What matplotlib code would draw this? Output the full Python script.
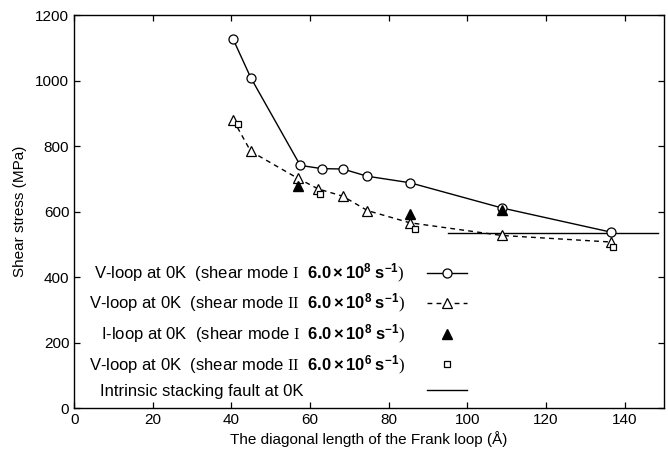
import matplotlib

matplotlib.use("Agg")
import matplotlib.pyplot as plt

plt.rcParams["font.family"] = ["Liberation Sans", "DejaVu Sans"]
plt.rcParams["mathtext.fontset"] = "custom"
plt.rcParams["mathtext.rm"] = "Liberation Serif"
plt.rcParams["mathtext.bf"] = "Liberation Sans:bold"
plt.rcParams["mathtext.it"] = "Liberation Serif:italic"

# V-loop, shear mode I, 6.0e8 s^-1
v1_len = [40.4, 44.9, 57.5, 63.0, 68.3, 74.5, 85.4, 108.8, 136.6]
v1_stress = [1127, 1009, 741, 731, 730, 708, 688, 611, 537]

# V-loop, shear mode II, 6.0e8 s^-1
v2_len = [40.4, 44.9, 56.8, 62.1, 68.3, 74.6, 85.3, 108.8, 136.6]
v2_stress = [881, 784, 702, 669, 647, 603, 566, 527, 507]

# I-loop, shear mode I, 6.0e8 s^-1
i1_len = [56.8, 85.3, 108.8]
i1_stress = [679, 593, 605]

# V-loop, shear mode II, 6.0e6 s^-1
v2s_len = [41.7, 62.5, 86.7, 137.1]
v2s_stress = [867, 654, 547, 493]

# intrinsic stacking fault
isf_len = [95, 148.5]
isf_stress = [535, 535]

labels = [
    r"V-loop at 0K  (shear mode $\mathrm{I}$  $\mathbf{6.0\times10^{8}\ s^{-1}}$$\mathrm{)}$",
    r"V-loop at 0K  (shear mode $\mathrm{II}$  $\mathbf{6.0\times10^{8}\ s^{-1}}$$\mathrm{)}$",
    r"I-loop at 0K  (shear mode $\mathrm{I}$  $\mathbf{6.0\times10^{8}\ s^{-1}}$$\mathrm{)}$",
    r"V-loop at 0K  (shear mode $\mathrm{II}$  $\mathbf{6.0\times10^{6}\ s^{-1}}$$\mathrm{)}$",
    "Intrinsic stacking fault at 0K" + " " * 22,
]

fig = plt.figure(figsize=(6.68, 4.55), dpi=100)
ax = fig.add_axes([0.111, 0.103, 0.883, 0.864])

h1, = ax.plot(v1_len, v1_stress, color="black", linewidth=1.0, marker="o",
              markersize=6.5, markerfacecolor="white", markeredgecolor="black",
              markeredgewidth=0.9, zorder=3)
h2, = ax.plot(v2_len, v2_stress, color="black", linewidth=1.0, linestyle=(0, (3.5, 3)),
              marker="^", markersize=7, markerfacecolor="white", markeredgecolor="black",
              markeredgewidth=0.9, zorder=3)
h3, = ax.plot(i1_len, i1_stress, linestyle="none", marker="^", markersize=7.5,
              color="black", zorder=4)
h4, = ax.plot(v2s_len, v2s_stress, linestyle="none", marker="s", markersize=5,
              markerfacecolor="white", markeredgecolor="black", markeredgewidth=0.9, zorder=4)
h5, = ax.plot(isf_len, isf_stress, color="black", linewidth=1.0, zorder=2)

ax.set_xlim(0, 150)
ax.set_ylim(0, 1200)
ax.set_xticks(range(0, 141, 20))
ax.set_yticks(range(0, 1201, 200))
ax.tick_params(direction="in", top=True, right=True, labelsize=11, length=4, width=0.9)
for side in ax.spines.values():
    side.set_linewidth(1.0)

ax.set_xlabel("The diagonal length of the Frank loop (Å)", fontsize=11, labelpad=3)
ax.set_ylabel("Shear stress (MPa)", fontsize=11, labelpad=6)

ax.legend([h1, h2, h3, h4, h5], labels, loc="lower left", bbox_to_anchor=(0.0, -0.015),
          frameon=False, markerfirst=False, numpoints=1, handlelength=2.4,
          handletextpad=1.3, labelspacing=0.45, fontsize=12)

fig.savefig("out.png", dpi=100)
